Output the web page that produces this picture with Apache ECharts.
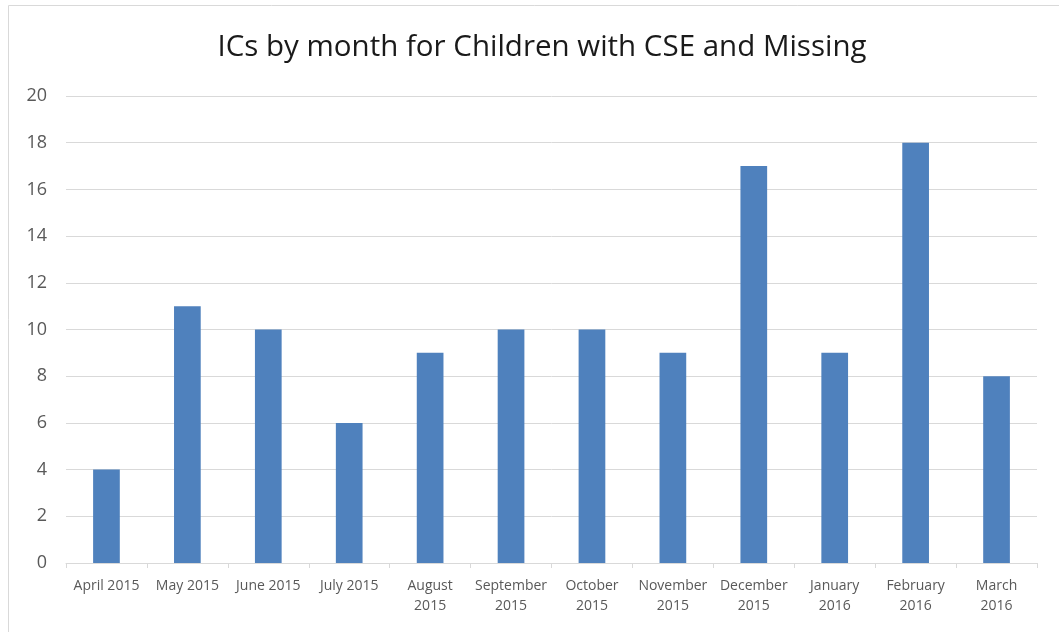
<!DOCTYPE html>
<html><head><meta charset="utf-8">
<script src="https://cdn.jsdelivr.net/npm/echarts@6/dist/echarts.min.js"></script>
<style>html,body{margin:0;padding:0;background:#fff}#c{width:1059px;height:632px}</style>
</head><body><div id="c"></div>
<script>
const titleText = 'ICs by month for Children with CSE and Missing';
const categories = ['April 2015','May 2015','June 2015','July 2015','August\n2015','September\n2015','October\n2015','November\n2015','December\n2015','January\n2016','February\n2016','March\n2016'];
const values = [4, 11, 10, 6, 9, 10, 10, 9, 17, 9, 18, 8];
const yMin = 0, yMax = 20, yStep = 2;

const font = 'Open Sans';
const chart = echarts.init(document.getElementById('c'));
chart.setOption({
  animation: false,
  graphic: [{type:'rect', shape:{x:8.5,y:5.5,width:1060,height:640}, style:{fill:'none', stroke:'#d9d9d9', lineWidth:1}, silent:true}],
  title: {text: titleText, left: 537, textAlign: 'center', top: 28, textStyle:{fontFamily: font, fontSize: 29.5, fontWeight: 'normal', color:'#1a1a1a'}},
  grid: {left: 66, right: 22, top: 96, bottom: 69},
  xAxis: {type:'category', data: categories,
    axisLine:{lineStyle:{color:'#d9d9d9'}},
    axisTick:{show:true, length:5, lineStyle:{color:'#d9d9d9'}},
    axisLabel:{fontFamily: font, fontSize: 14, color:'#595959', margin: 13, lineHeight: 20, interval: 0}
  },
  yAxis: {type:'value', min: yMin, max: yMax, interval: yStep,
    axisLine:{show:false}, axisTick:{show:false},
    splitLine:{lineStyle:{color:'#d9d9d9'}},
    axisLabel:{fontFamily: font, fontSize: 18, color:'#595959', margin: 19}
  },
  series: [{type:'bar', data: values, barCategoryGap:'67%', itemStyle:{color:'#4f81bd'}}]
});
</script></body></html>
